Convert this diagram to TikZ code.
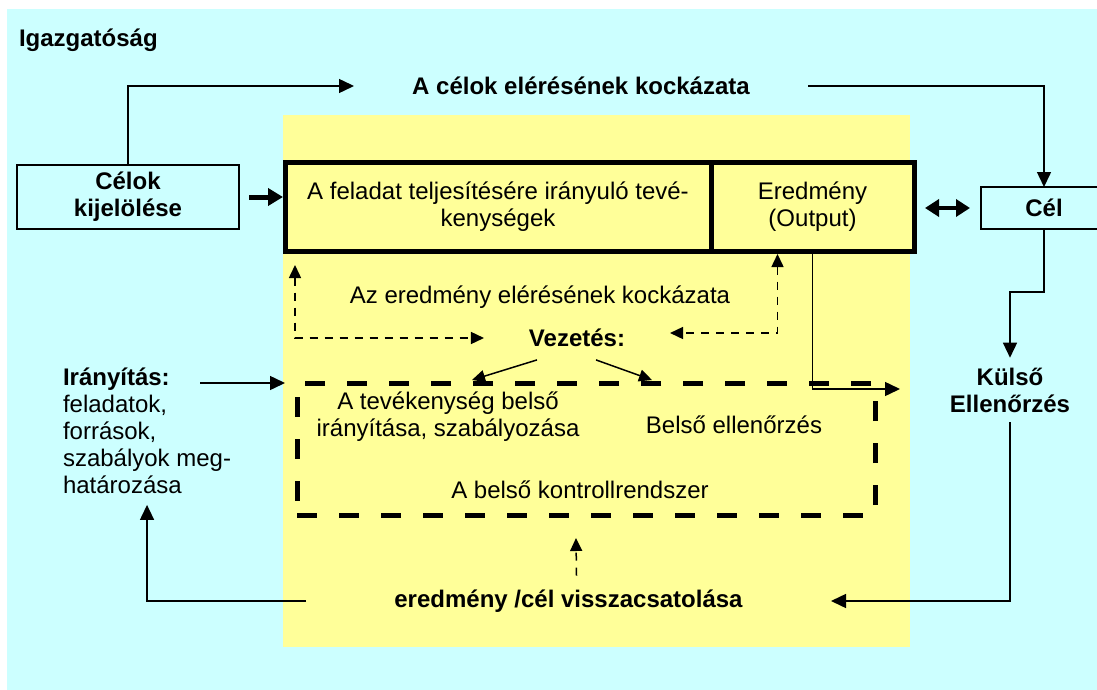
\documentclass[tikz,border=0pt]{standalone}
\usepackage{fontspec}
\setmainfont{Liberation Sans}
\usetikzlibrary{
positioning,
arrows.meta,
}
\definecolor{bgcyan}{RGB}{204,255,255}
\definecolor{bgyellow}{RGB}{255,255,153}
\tikzset{
every node/.style={align=center, inner sep=0pt, outer sep=0pt, font=\fontsize{24}{27}\selectfont},
heading/.style={font=\fontsize{24}{27}\selectfont\bfseries},
goalbox/.style={rectangle, draw, line width=1.5pt, fill=bgcyan},
workbox/.style={rectangle, draw, line width=5pt, fill=bgyellow},
ctrlbox/.style={rectangle, draw, line width=5pt, dash pattern=on 20pt off 22pt},
link/.style={line width=1.5pt, -{Triangle[length=15pt,width=14pt]}},
smalllink/.style={line width=1.5pt, -{Triangle[length=13pt,width=12pt]}},
risklink/.style={line width=1.5pt, dash pattern=on 8pt off 7pt, {Triangle[length=13pt,width=12pt]}-{Triangle[length=13pt,width=12pt]}},
thicklink/.style={line width=5pt, -{Triangle[length=15pt,width=17pt]}},
bothlink/.style={line width=4pt, {Triangle[length=14pt,width=17pt]}-{Triangle[length=14pt,width=17pt]}},
}

\begin{document}
\begin{tikzpicture}[x=1pt, y=-1pt]
    \clip (0,0) rectangle (1097,690);
    \fill [bgcyan] (7,9) rectangle (1097,690);
    \fill [bgyellow] (283,115) rectangle (910,647);
    % boxes
    \node [heading, anchor=base west] (igaz) at (19,47) {Igazgatóság};
    \node [goalbox, heading, minimum width=222pt, minimum height=64pt] (celok) at (128,197) {Célok\\kijelölése};
    \node [workbox, minimum width=426pt, minimum height=89pt] (tev) at (498,206.5) {A feladat teljesítésére irányuló tevé-\\kenységek};
    \node [workbox, minimum width=203pt, minimum height=89pt] (ered) at (812.5,206.5) {Eredmény\\(Output)};
    \node [goalbox, heading, minimum width=126pt, minimum height=42pt] (cel) at (1044,208) {Cél};
    \node [heading, minimum width=454pt] (celkock) at (581,86) {A célok elérésének kockázata};
    \node [heading, inner ysep=10pt] (kulso) at (1010,390) {Külső\\Ellenőrzés};
    % internal control
    \node (eredkock) at (540,297) {Az eredmény elérésének kockázata};
    \node [heading] (vez) at (577,338) {Vezetés:};
    \node [ctrlbox, minimum width=578pt, minimum height=132pt] (ctrl) at (586,449) {};
    \node (belsoir) at (448,417) {A tevékenység belső\\irányítása, szabályozása};
    \node (bellen) at (734,425) {Belső ellenőrzés};
    \node (kontroll) at (580,490) {A belső kontrollrendszer};
    \node [heading, minimum width=525pt] (vissza) at (568.5,601) {eredmény /cél visszacsatolása};
    \node [align=left, anchor=west, inner ysep=11pt] (iranyit) at (63,431) {\textbf{Irányítás:}\\feladatok,\\források,\\szabályok meg-\\határozása};
    \coordinate (iranyitend) at (200,383);
    % connectors
    \draw [link] (celok.north) |- (celkock.west);
    \draw [link] (celkock.east) -| (cel.north);
    \draw [thicklink, shorten <=10pt, shorten >=2pt] (celok.east) -- (celok.east -| tev.west);
    \draw [bothlink, shorten <=11pt, shorten >=11pt] (ered.east |- cel.west) -- (cel.west);
    \draw [link] (cel.south) -- ++(0,63) -| (kulso.north);
    \draw [link] (kulso.south) |- (vissza.east);
    \draw [link] (vissza.west) -| (iranyit.south);
    \draw [link] (iranyitend) -- ([xshift=-12pt]ctrl.north west);
    \draw [risklink] ([xshift=10pt,yshift=-14pt]tev.south west) |- ([xshift=-45pt]vez.west);
    \draw [risklink] ([xshift=-35pt,yshift=-3pt]ered.south) |- ([xshift=45pt,yshift=5pt]vez.east);
    \draw [smalllink] ([xshift=-40pt,yshift=-13pt]vez.south) -- ([xshift=-114pt,yshift=3pt]ctrl.north);
    \draw [smalllink] ([xshift=19pt,yshift=-13pt]vez.south) -- ([xshift=66pt,yshift=3pt]ctrl.north);
    \draw [link] (ered.south) |- ([xshift=25pt,yshift=-6pt]ctrl.north east);
    \draw [risklink, -{Triangle[length=13pt,width=12pt]}] ([xshift=8pt,yshift=14pt]vissza.north) -- ([xshift=-10pt,yshift=-23pt]ctrl.south);
\end{tikzpicture}
\end{document}
